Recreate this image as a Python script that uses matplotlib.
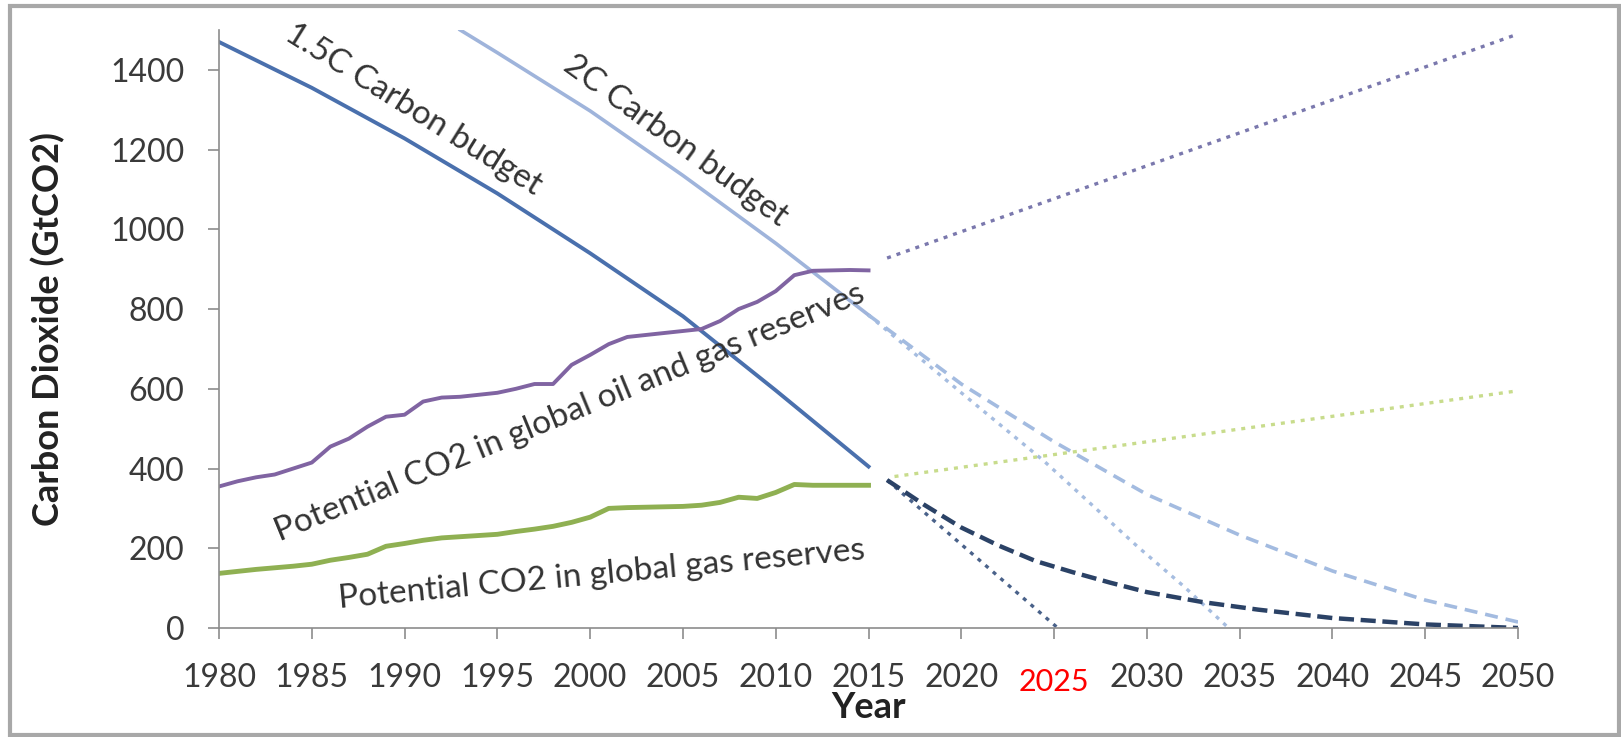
import matplotlib.pyplot as plt
from matplotlib.patches import Rectangle

plt.rcParams['font.family'] = ['Lato', 'DejaVu Sans']

# historical reserves (GtCO2)
years = list(range(1980, 2016))
oil_gas = [355, 368, 378, 385, 400, 415, 455, 475, 505, 530, 535, 568,
           578, 580, 585, 590, 600, 612, 612, 660, 685, 712, 730, 735,
           740, 745, 750, 770, 800, 818, 845, 885, 896, 897, 898, 897]
gas = [137, 142, 147, 151, 155, 160, 170, 177, 185, 205, 212, 220,
       226, 229, 232, 235, 242, 248, 255, 265, 278, 300, 302, 303,
       304, 305, 308, 315, 328, 325, 340, 360, 358, 358, 358, 358]

# carbon budgets
b15_years = [1980, 1985, 1990, 1995, 2000, 2005, 2010, 2015]
b15 = [1470, 1355, 1228, 1090, 940, 782, 596, 405]
b2_years = [1993, 1995, 2000, 2005, 2010, 2015]
b2 = [1500, 1443, 1297, 1135, 965, 785]

# projections
proj_oil_years = [2016, 2050]
proj_oil = [928, 1490]
proj_gas_years = [2016.4, 2050]
proj_gas = [380, 595]
b15_lin_years = [2016, 2025.2]
b15_lin = [371, 0]
b15_curve_years = [2016, 2018, 2020, 2022, 2024, 2026, 2028, 2030, 2033, 2036, 2040, 2045, 2050]
b15_curve = [371, 309, 252, 207, 168, 140, 114, 90, 65, 46, 25, 9, 0]
b2_lin_years = [2015, 2020, 2024.4, 2029.5, 2032, 2034.4]
b2_lin = [785, 590, 421, 204, 104, 0]
b2_curve_years = [2015, 2020, 2025, 2030, 2035, 2040, 2045, 2050]
b2_curve = [785, 612, 467, 335, 233, 143, 70, 15]

xticks = list(range(1980, 2051, 5))
yticks = list(range(0, 1401, 200))

fig = plt.figure(figsize=(16.21, 7.37), dpi=100)
ax = fig.add_axes([0.1351, 0.1479, 0.8014, 0.8114])

# solid history
ax.plot(b2_years, b2, color='#9fb4db', lw=2.6)
ax.plot(b15_years, b15, color='#4a70ad', lw=2.8)
ax.plot(years, oil_gas, color='#8064a2', lw=2.8)
ax.plot(years, gas, color='#8fb052', lw=3.5)

# projections
dot = (0, (1.2, 1.8))
ax.plot(proj_oil_years, proj_oil, color='#7a78ad', lw=2.4, linestyle=dot)
ax.plot(proj_gas_years, proj_gas, color='#c8dc8c', lw=2.4, linestyle=dot)
ax.plot(b2_lin_years, b2_lin, color='#a6bde0', lw=2.4, linestyle=dot)
ax.plot(b2_curve_years, b2_curve, color='#a3bbe0', lw=2.6, linestyle=(0, (3.6, 2.2)))
ax.plot(b15_lin_years, b15_lin, color='#4a628a', lw=2.4, linestyle=dot)
ax.plot(b15_curve_years, b15_curve, color='#2b4266', lw=3.2, linestyle=(0, (3.4, 1.5)))

# line labels
txt = '#333333'
ax.text(1990.5, 1300, '1.5C Carbon budget', rotation=-32, ha='center', va='center',
        fontsize=24, color=txt, rotation_mode='anchor')
ax.text(2004.6, 1222, '2C Carbon budget', rotation=-36, ha='center', va='center',
        fontsize=24, color=txt, rotation_mode='anchor')
ax.text(1998.9, 540, 'Potential CO2 in global oil and gas reserves', rotation=22.3,
        ha='center', va='center', fontsize=24, color=txt, rotation_mode='anchor')
ax.text(2000.6, 133, 'Potential CO2 in global gas reserves', rotation=5.3,
        ha='center', va='center', fontsize=24, color=txt, rotation_mode='anchor')

ax.set_xlim(1980, 2050)
ax.set_ylim(0, 1500)
ax.set_xticks(xticks)
ax.set_xticklabels(['' if t == 2025 else str(t) for t in xticks])
ax.set_yticks(yticks)
ax.tick_params(axis='both', labelsize=23, colors='#8c8c8c', labelcolor='#3a3a3a',
               length=8, width=1.2, direction='out', pad=17)
# highlighted year
ax.text(2025, -0.0895, '2025', transform=ax.get_xaxis_transform(), ha='center',
        va='center', fontsize=22, color='#ff0000')

for s in ['top', 'right']:
    ax.spines[s].set_visible(False)
for s in ['left', 'bottom']:
    ax.spines[s].set_color('#8c8c8c')
    ax.spines[s].set_linewidth(1.2)

ax.set_xlabel('Year', fontsize=26, fontweight='bold', color='#222222', va='top')
ax.xaxis.set_label_coords(0.5, -0.105)
ax.set_ylabel('Carbon Dioxide (GtCO2)', fontsize=26, fontweight='bold', color='#222222')
ax.yaxis.set_label_coords(-0.1186, 0.5)

# chart frame
fig.patches.append(Rectangle((0.0062, 0.0027), 0.9926, 0.9898, transform=fig.transFigure,
                             fill=False, edgecolor='#a8a8a8', lw=3))

fig.savefig('out.png', dpi=100)
